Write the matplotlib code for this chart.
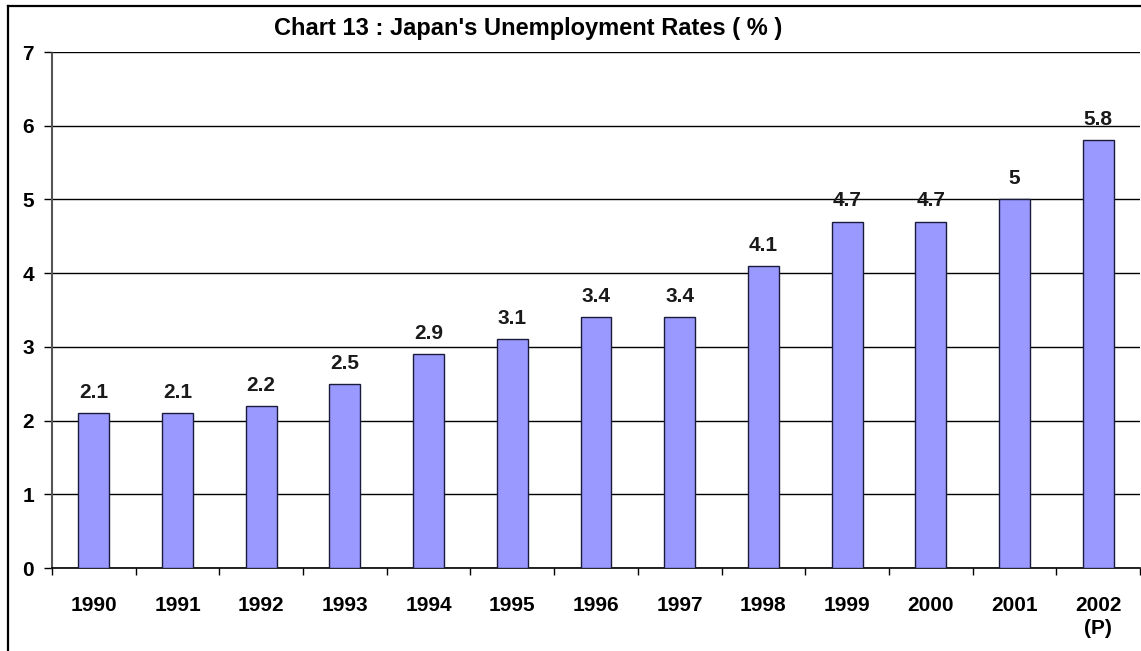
import matplotlib
matplotlib.use("Agg")
import matplotlib.pyplot as plt
from matplotlib.lines import Line2D
import numpy as np

# Unemployment rate by year, 2002 is provisional
years = ["1990", "1991", "1992", "1993", "1994", "1995", "1996",
         "1997", "1998", "1999", "2000", "2001", "2002\n(P)"]
rates = [2.1, 2.1, 2.2, 2.5, 2.9, 3.1, 3.4, 3.4, 4.1, 4.7, 4.7, 5, 5.8]
yticks = [0, 1, 2, 3, 4, 5, 6, 7]

plt.rcParams['font.family'] = ['Liberation Sans', 'DejaVu Sans']

W, H = 1141, 651
fig = plt.figure(figsize=(W / 100, H / 100), dpi=100)
fig.patch.set_facecolor("white")

# outer frame: only the left and top edges fall inside the image
fig.add_artist(Line2D([8 / W, 8 / W], [0, 1 - 6 / H], color="black", lw=1.6,
                      transform=fig.transFigure))
fig.add_artist(Line2D([8 / W, 1], [1 - 6 / H, 1 - 6 / H], color="black", lw=1.6,
                      transform=fig.transFigure))

ax = fig.add_axes([52 / W, (H - 568) / H, (1140 - 52) / W, (568 - 52) / H])

x = np.arange(len(years))
ax.bar(x, rates, width=0.37, color="#9999FF", edgecolor="#1a1a3a",
       linewidth=1.0, zorder=3)

for xi, v in zip(x, rates):
    ax.text(xi, v + 0.15, f"{v:g}", ha="center", va="bottom",
            fontsize=15, fontweight="bold", color="#1a1a1a", zorder=4)

ax.set_xlim(-0.5, len(years) - 0.5)
ax.set_ylim(0, 7)
ax.set_yticks(yticks)
ax.set_yticklabels([str(t) for t in yticks], fontsize=15, fontweight="bold")

# category ticks sit between the bars, labels centred under them
ax.set_xticks(np.arange(-0.5, len(years), 1.0))
ax.set_xticklabels([])
ax.set_xticks(x, minor=True)
ax.set_xticklabels(years, minor=True, fontsize=15, fontweight="bold",
                   linespacing=1.3)
ax.tick_params(axis="x", which="minor", length=0, pad=20)
ax.tick_params(axis="x", which="major", length=5, width=1, direction="out")
ax.tick_params(axis="y", length=6, width=1, direction="out", pad=7)

ax.yaxis.grid(True, color="black", linewidth=1.0, zorder=1)
ax.set_axisbelow(True)

for s in ["top", "right"]:
    ax.spines[s].set_visible(False)
ax.spines["left"].set_color("#555555")
ax.spines["left"].set_linestyle((0, (1, 1)))
ax.spines["left"].set_linewidth(1.5)
ax.spines["bottom"].set_color("black")
ax.spines["bottom"].set_linewidth(1.2)

fig.text(528 / W, 1 - 28 / H, "Chart 13 : Japan's Unemployment Rates ( % )",
         ha="center", va="center", fontsize=17, fontweight="bold")

fig.savefig("out.png", dpi=100)
